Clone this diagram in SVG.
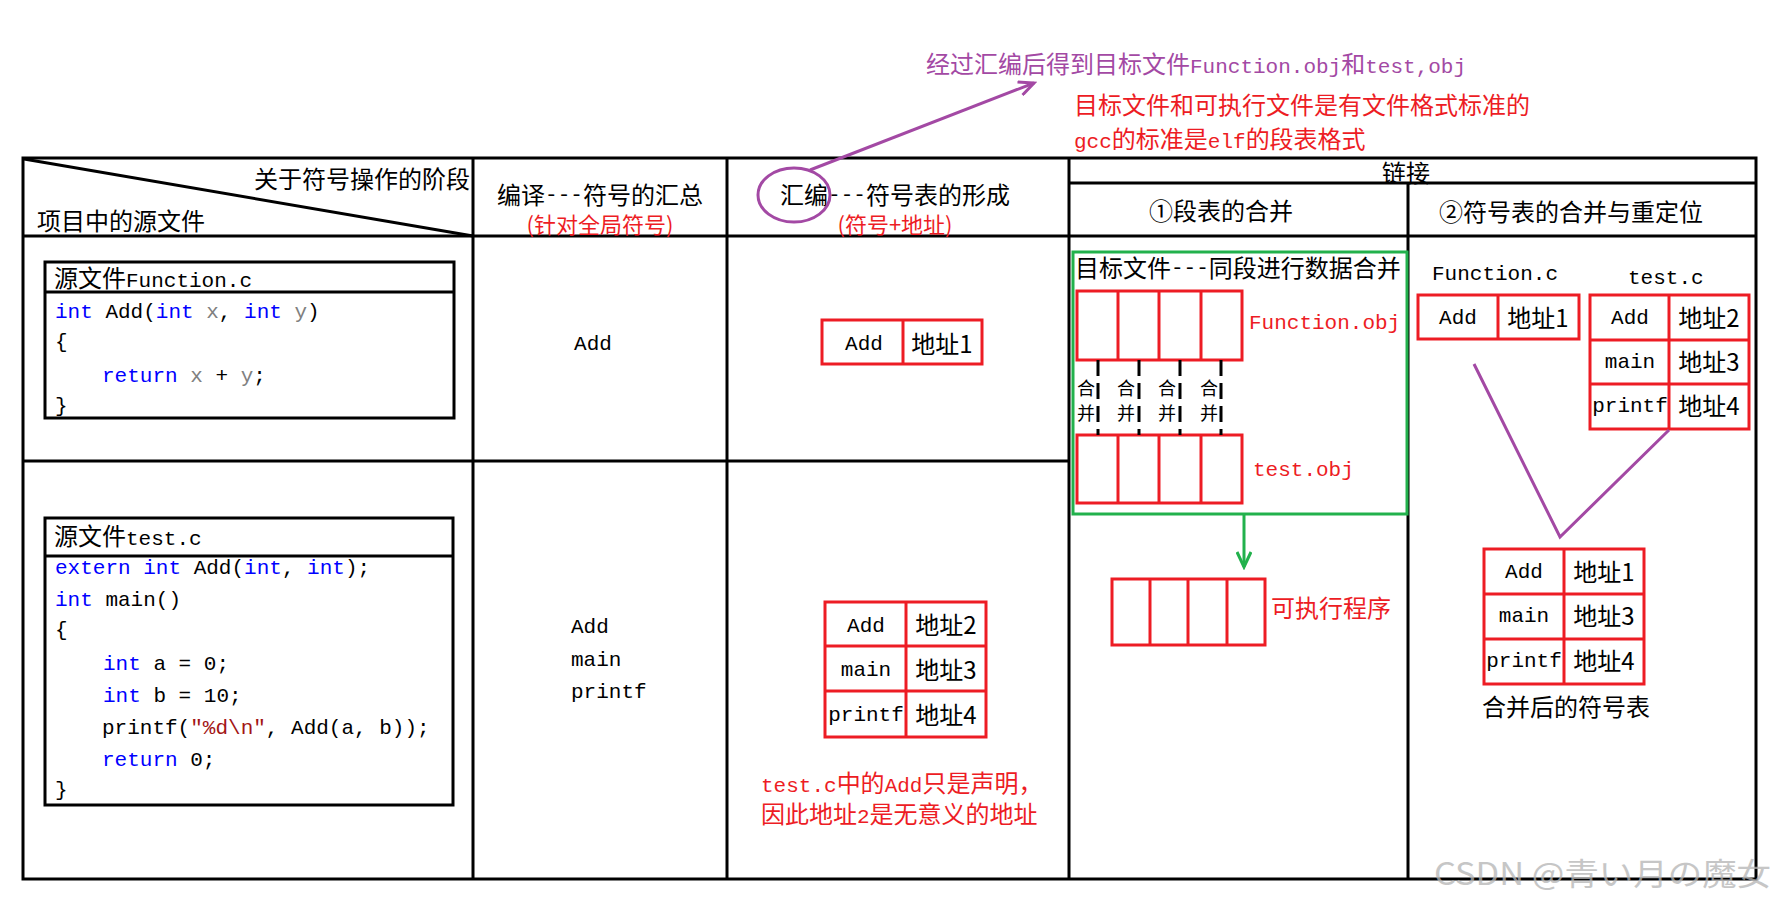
<svg xmlns="http://www.w3.org/2000/svg" width="1778" height="900" viewBox="0 0 1778 900">
<defs>
<style>
text { dominant-baseline: central; fill: #000; }
text.mx { dominant-baseline: alphabetic; }
.cj { font-family: "Noto Sans CJK SC", sans-serif; font-size: 24px; }
.cs { font-family: "Noto Sans CJK SC", sans-serif; font-size: 22px; }
.sm { font-family: "Noto Sans CJK SC", sans-serif; font-size: 18px; }
.mo { font-family: "Liberation Mono", "Noto Sans CJK SC", monospace; font-size: 21px; }
.dash { baseline-shift: 3px; }
.mid { text-anchor: middle; }
.end { text-anchor: end; }
.red { fill: #ed1c24; }
.pur { fill: #a349a4; }
.kw { fill: #0000ff; }
.var { fill: #808080; }
.str { fill: #a31515; }
.grid { stroke: #000; stroke-width: 3; fill: none; }
.rbox { stroke: #ed1c24; stroke-width: 3; fill: none; }
.wm { font-family: "Noto Sans CJK JP", sans-serif; font-size: 31px; fill: #b4b4b4; opacity: 0.75; }
</style>
<marker id="arrP" viewBox="0 0 20 16" markerWidth="20" markerHeight="16" refX="17" refY="8" orient="auto" markerUnits="userSpaceOnUse">
<path d="M2,1 L17,8 L2,15" fill="none" stroke="#a349a4" stroke-width="3"/>
</marker>
<marker id="arrG" viewBox="0 0 20 16" markerWidth="20" markerHeight="16" refX="17" refY="8" orient="auto" markerUnits="userSpaceOnUse">
<path d="M2,1 L17,8 L2,15" fill="none" stroke="#22b14c" stroke-width="3"/>
</marker>
</defs>
<rect x="0" y="0" width="1778" height="900" fill="#fff"/>

<g id="notes">
<text class="cj pur mx" x="926" y="73">经过汇编后得到目标文件<tspan class="mo">Function.obj</tspan>和<tspan class="mo">test,obj</tspan></text>
<text class="cj red" x="1074" y="103">目标文件和可执行文件是有文件格式标准的</text>
<text class="cj red mx" x="1074" y="148"><tspan class="mo">gcc</tspan>的标准是<tspan class="mo">elf</tspan>的段表格式</text>
</g>

<g id="table">
<rect class="grid" x="23" y="158" width="1733" height="721"/>
<line class="grid" x1="23" y1="236" x2="1756" y2="236"/>
<line class="grid" x1="23" y1="461" x2="1069" y2="461"/>
<line class="grid" x1="473" y1="158" x2="473" y2="879"/>
<line class="grid" x1="727" y1="158" x2="727" y2="879"/>
<line class="grid" x1="1069" y1="158" x2="1069" y2="879"/>
<line class="grid" x1="1408" y1="183" x2="1408" y2="879"/>
<line class="grid" x1="1069" y1="183" x2="1756" y2="183"/>
<line class="grid" x1="24" y1="159" x2="473" y2="236"/>
<text class="cj end" x="470" y="177">关于符号操作的阶段</text>
<text class="cj" x="37" y="219">项目中的源文件</text>
<text class="cj mid mx" x="600" y="204">编译<tspan class="mo dash">---</tspan>符号的汇总</text>
<text class="cs mid red" x="600" y="223">(针对全局符号)</text>
<text class="cj mid mx" x="895" y="204">汇编<tspan class="mo dash">---</tspan>符号表的形成</text>
<text class="cs mid red" x="895" y="223">(符号+地址)</text>
<text class="cj mid" x="1406" y="171">链接</text>
<text class="cj mid" x="1221" y="209">①段表的合并</text>
<text class="cj mid" x="1571" y="210">②符号表的合并与重定位</text>
</g>

<g id="src-function">
<rect class="grid" x="45" y="262" width="409" height="156"/>
<line class="grid" x1="45" y1="292" x2="454" y2="292"/>
<text class="cj mx" x="54" y="287">源文件<tspan class="mo">Function.c</tspan></text>
<text class="mo" x="55" y="312"><tspan class="kw">int</tspan> Add(<tspan class="kw">int</tspan> <tspan class="var">x</tspan>, <tspan class="kw">int</tspan> <tspan class="var">y</tspan>)</text>
<text class="mo" x="55" y="342">{</text>
<text class="mo" x="102" y="376"><tspan class="kw">return</tspan> <tspan class="var">x</tspan> + <tspan class="var">y</tspan>;</text>
<text class="mo" x="55" y="406">}</text>
</g>

<g id="src-test">
<rect class="grid" x="45" y="518" width="408" height="287"/>
<line class="grid" x1="45" y1="556" x2="453" y2="556"/>
<text class="cj mx" x="54" y="545">源文件<tspan class="mo">test.c</tspan></text>
<text class="mo" x="55" y="568"><tspan class="kw">extern</tspan> <tspan class="kw">int</tspan> Add(<tspan class="kw">int</tspan>, <tspan class="kw">int</tspan>);</text>
<text class="mo" x="55" y="600"><tspan class="kw">int</tspan> main()</text>
<text class="mo" x="55" y="630">{</text>
<text class="mo" x="103" y="664"><tspan class="kw">int</tspan> a = 0;</text>
<text class="mo" x="103" y="696"><tspan class="kw">int</tspan> b = 10;</text>
<text class="mo" x="102" y="728">printf(<tspan class="str">"%d\n"</tspan>, Add(a, b));</text>
<text class="mo" x="102" y="760"><tspan class="kw">return</tspan> 0;</text>
<text class="mo" x="55" y="790">}</text>
</g>

<g id="compile-function">
<text class="mo mid" x="593" y="344">Add</text>
</g>
<g id="compile-test">
<text class="mo" x="571" y="627">Add</text>
<text class="mo" x="571" y="660">main</text>
<text class="mo" x="571" y="692">printf</text>
</g>

<g id="symtab-function">
<rect class="rbox" x="822" y="320" width="160" height="44"/>
<line class="rbox" x1="903" y1="320" x2="903" y2="364"/>
<text class="mo mid" x="864" y="344">Add</text>
<text class="cj mid" x="942" y="342">地址1</text>
</g>

<g id="symtab-test">
<rect class="rbox" x="825" y="602" width="161" height="135"/>
<line class="rbox" x1="825" y1="646" x2="986" y2="646"/>
<line class="rbox" x1="825" y1="691" x2="986" y2="691"/>
<line class="rbox" x1="906" y1="602" x2="906" y2="737"/>
<text class="mo mid" x="866" y="626">Add</text>
<text class="cj mid" x="946" y="623">地址2</text>
<text class="mo mid" x="866" y="670">main</text>
<text class="cj mid" x="946" y="668">地址3</text>
<text class="mo mid" x="866" y="715">printf</text>
<text class="cj mid" x="946" y="713">地址4</text>
</g>

<g id="note-test">
<text class="cj red mx" x="761" y="792"><tspan class="mo">test.c</tspan>中的<tspan class="mo">Add</tspan>只是声明，</text>
<text class="cj red mx" x="761" y="823">因此地址<tspan class="mo">2</tspan>是无意义的地址</text>
</g>

<g id="segment-merge">
<rect x="1073" y="252" width="334" height="262" fill="none" stroke="#22b14c" stroke-width="3"/>
<text class="cj mx" x="1075" y="277">目标文件<tspan class="mo dash">---</tspan>同段进行数据合并</text>
</g>

<g id="function-obj">
<rect class="rbox" x="1077" y="291" width="165" height="69"/>
<line class="rbox" x1="1118" y1="291" x2="1118" y2="360"/>
<line class="rbox" x1="1159" y1="291" x2="1159" y2="360"/>
<line class="rbox" x1="1201" y1="291" x2="1201" y2="360"/>
<text class="mo red" x="1249" y="323">Function.obj</text>
</g>

<g id="test-obj">
<rect class="rbox" x="1077" y="435" width="165" height="68"/>
<line class="rbox" x1="1118" y1="435" x2="1118" y2="503"/>
<line class="rbox" x1="1159" y1="435" x2="1159" y2="503"/>
<line class="rbox" x1="1201" y1="435" x2="1201" y2="503"/>
<text class="mo red" x="1253" y="470">test.obj</text>
</g>

<g id="merge-labels">
<text class="sm" x="1077" y="387">合</text>
<text class="sm" x="1077" y="412">并</text>
<text class="sm" x="1117" y="387">合</text>
<text class="sm" x="1117" y="412">并</text>
<text class="sm" x="1158" y="387">合</text>
<text class="sm" x="1158" y="412">并</text>
<text class="sm" x="1200" y="387">合</text>
<text class="sm" x="1200" y="412">并</text>
</g>

<g id="executable">
<rect class="rbox" x="1112" y="579" width="153" height="66"/>
<line class="rbox" x1="1150" y1="579" x2="1150" y2="645"/>
<line class="rbox" x1="1188" y1="579" x2="1188" y2="645"/>
<line class="rbox" x1="1227" y1="579" x2="1227" y2="645"/>
<text class="cj red" x="1271" y="606">可执行程序</text>
</g>

<g id="link-function">
<text class="mo" x="1432" y="274">Function.c</text>
<rect class="rbox" x="1418" y="295" width="161" height="44"/>
<line class="rbox" x1="1498" y1="295" x2="1498" y2="339"/>
<text class="mo mid" x="1458" y="318">Add</text>
<text class="cj mid" x="1538" y="316">地址1</text>
</g>

<g id="link-test">
<text class="mo" x="1628" y="278">test.c</text>
<rect class="rbox" x="1590" y="295" width="159" height="134"/>
<line class="rbox" x1="1590" y1="340" x2="1749" y2="340"/>
<line class="rbox" x1="1590" y1="384" x2="1749" y2="384"/>
<line class="rbox" x1="1669" y1="295" x2="1669" y2="429"/>
<text class="mo mid" x="1630" y="318">Add</text>
<text class="cj mid" x="1709" y="316">地址2</text>
<text class="mo mid" x="1630" y="362">main</text>
<text class="cj mid" x="1709" y="360">地址3</text>
<text class="mo mid" x="1630" y="406">printf</text>
<text class="cj mid" x="1709" y="404">地址4</text>
</g>

<g id="merged-symtab">
<rect class="rbox" x="1484" y="549" width="160" height="135"/>
<line class="rbox" x1="1484" y1="594" x2="1644" y2="594"/>
<line class="rbox" x1="1484" y1="639" x2="1644" y2="639"/>
<line class="rbox" x1="1564" y1="549" x2="1564" y2="684"/>
<text class="mo mid" x="1524" y="572">Add</text>
<text class="cj mid" x="1604" y="570">地址1</text>
<text class="mo mid" x="1524" y="616">main</text>
<text class="cj mid" x="1604" y="614">地址3</text>
<text class="mo mid" x="1524" y="661">printf</text>
<text class="cj mid" x="1604" y="659">地址4</text>
<text class="cj mid" x="1566" y="705">合并后的符号表</text>
</g>

<g id="connectors">
<ellipse cx="794" cy="195" rx="36" ry="27" fill="none" stroke="#a349a4" stroke-width="3"/>
<line x1="810" y1="170" x2="1034" y2="83" stroke="#a349a4" stroke-width="3" marker-end="url(#arrP)"/>
<line x1="1244" y1="514" x2="1244" y2="567" stroke="#22b14c" stroke-width="3" marker-end="url(#arrG)"/>
<polyline points="1474,364 1560,537 1669,430" fill="none" stroke="#a349a4" stroke-width="3"/>
<g stroke="#000" stroke-width="3" stroke-dasharray="16,7">
<line x1="1098" y1="360" x2="1098" y2="435"/>
<line x1="1139" y1="360" x2="1139" y2="435"/>
<line x1="1180" y1="360" x2="1180" y2="435"/>
<line x1="1221" y1="360" x2="1221" y2="435"/>
</g>
</g>

<text class="wm" x="1434" y="871" textLength="337" lengthAdjust="spacingAndGlyphs">CSDN @青い月の魔女</text>
</svg>
